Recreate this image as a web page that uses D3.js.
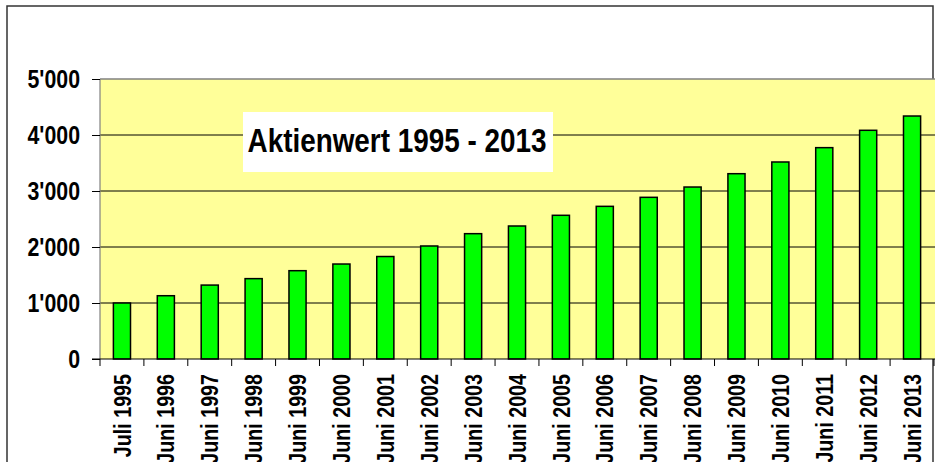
<!DOCTYPE html>
<html>
<head>
<meta charset="utf-8">
<script src="https://cdn.jsdelivr.net/npm/d3@7"></script>
<style>
  body { margin: 0; background: #fff; }
  text { font-family: "Liberation Sans", Arial, sans-serif; font-weight: bold; }
</style>
</head>
<body>
<div id="chart-area"></div>
<script>
// Daten
var categories = ["Juli 1995", "Juni 1996", "Juni 1997", "Juni 1998", "Juni 1999", "Juni 2000",
    "Juni 2001", "Juni 2002", "Juni 2003", "Juni 2004", "Juni 2005", "Juni 2006", "Juni 2007",
    "Juni 2008", "Juni 2009", "Juni 2010", "Juni 2011", "Juni 2012", "Juni 2013"];
var values = [1000, 1130, 1320, 1435, 1577, 1696, 1830, 2018, 2238, 2375, 2566, 2726, 2887,
    3071, 3309, 3518, 3774, 4084, 4339];
var yTicks = [0, 1000, 2000, 3000, 4000, 5000];
var title = "Aktienwert 1995 - 2013";

var margin = { left: 100, top: 79 };
var width = 834, height = 280;
var narrow = 0.82; // no Arial Narrow installed -> squeeze text horizontally

var svg = d3.select("#chart-area")
    .append("svg")
        .attr("width", 936)
        .attr("height", 462);

// outer frame
svg.append("path")
    .attr("d", "M7,470 L7,6 L933,6 L933,470")
    .attr("fill", "none")
    .attr("stroke", "#333")
    .attr("stroke-width", 1.5);

var g = svg.append("g")
    .attr("transform", "translate(" + margin.left + "," + margin.top + ")");

var x = d3.scaleBand()
    .domain(categories)
    .range([0, width])
    .padding(0);

var y = d3.scaleLinear()
    .domain([0, 5000])
    .range([height, 0]);

// plot background
g.append("rect")
    .attr("x", 0)
    .attr("y", 0)
    .attr("width", width + 1)
    .attr("height", height)
    .attr("fill", "#ffff99");

// gridlines
g.selectAll(".grid")
    .data(yTicks.filter(function(d){ return d > 0; }))
    .enter()
    .append("line")
        .attr("class", "grid")
        .attr("x1", 0)
        .attr("x2", width + 1)
        .attr("y1", function(d){ return y(d); })
        .attr("y2", function(d){ return y(d); })
        .attr("stroke", function(d){ return d === 5000 ? "#808080" : "#000"; })
        .attr("stroke-width", function(d){ return d === 5000 ? 1.5 : 1; });

// left border of plot
g.append("line")
    .attr("x1", 0).attr("x2", 0)
    .attr("y1", 0).attr("y2", height)
    .attr("stroke", "#808080")
    .attr("stroke-width", 1.2);

// bars
var barW = x.bandwidth() * 0.39;
g.selectAll(".bar")
    .data(values)
    .enter()
    .append("rect")
        .attr("class", "bar")
        .attr("x", function(d, i){ return x(categories[i]) + x.bandwidth() / 2 - barW / 2; })
        .attr("y", function(d){ return y(d); })
        .attr("width", barW)
        .attr("height", function(d){ return height - y(d); })
        .attr("fill", "#00ff00")
        .attr("stroke", "#000")
        .attr("stroke-width", 1.5);

// Y Axis (ticks from d3, labels squeezed by hand)
var yAxisCall = d3.axisLeft(y)
    .tickValues(yTicks)
    .tickSize(8)
    .tickFormat("");

var yAxisGroup = g.append("g")
    .attr("class", "y axis")
    .call(yAxisCall);
yAxisGroup.select(".domain").remove();
yAxisGroup.selectAll("line").attr("stroke", "#000");

g.selectAll(".ylabel")
    .data(yTicks)
    .enter()
    .append("text")
        .attr("class", "ylabel")
        .attr("transform", function(d){
            return "translate(-20," + y(d) + ") scale(" + narrow + ",1)";
        })
        .attr("text-anchor", "end")
        .attr("dy", "0.36em")
        .attr("font-size", "26px")
        .attr("fill", "#000")
        .text(function(d){ return d3.format(",")(d).replace(/,/g, "'"); });

// X Axis (ticks at category boundaries)
var xAxisGroup = g.append("g")
    .attr("class", "x axis")
    .attr("transform", "translate(0," + height + ")");

xAxisGroup.append("line")
    .attr("x1", -8).attr("x2", width + 1)
    .attr("y1", 0).attr("y2", 0)
    .attr("stroke", "#000")
    .attr("stroke-width", 1.2);

xAxisGroup.selectAll(".xtick")
    .data(categories.concat([null]))
    .enter()
    .append("line")
        .attr("class", "xtick")
        .attr("x1", function(d, i){ return i * x.step(); })
        .attr("x2", function(d, i){ return i * x.step(); })
        .attr("y1", 0)
        .attr("y2", 7)
        .attr("stroke", "#000");

xAxisGroup.selectAll(".xlabel")
    .data(categories)
    .enter()
    .append("text")
        .attr("class", "xlabel")
        .attr("transform", function(d){
            return "translate(" + (x(d) + x.bandwidth() / 2) + ",15) rotate(-90) scale(" + narrow + ",1)";
        })
        .attr("text-anchor", "end")
        .attr("dy", "0.36em")
        .attr("font-size", "24px")
        .attr("fill", "#000")
        .text(function(d){ return d; });

// Title box
svg.append("rect")
    .attr("x", 243)
    .attr("y", 112)
    .attr("width", 310)
    .attr("height", 60)
    .attr("fill", "#fff");

svg.append("text")
    .attr("transform", "translate(397,152) scale(" + narrow + ",1)")
    .attr("text-anchor", "middle")
    .attr("font-size", "34px")
    .attr("fill", "#000")
    .text(title);
</script>
</body>
</html>
